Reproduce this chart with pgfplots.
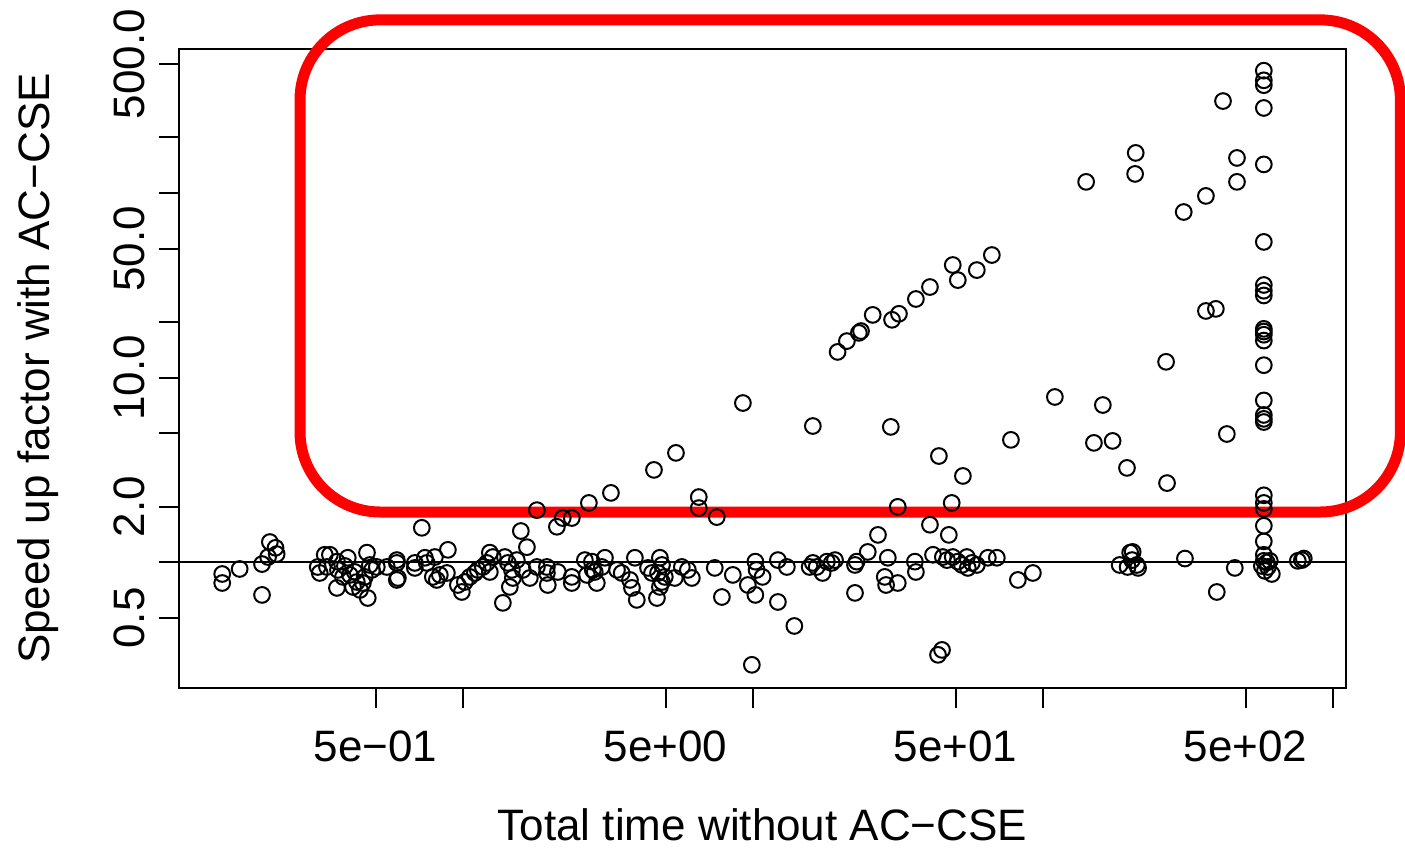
\documentclass[border=0pt]{standalone}
\usepackage{fontspec}
\setmainfont{Liberation Sans}
\usepackage{pgfplots}
\pgfplotsset{compat=1.18}

\begin{document}
\begin{tikzpicture}
\useasboundingbox (-62.65pt,-56pt) rectangle (429.1pt,240.8pt);
\begin{axis}[
    at={(0,0)}, anchor=south west,
    scale only axis, width=408.45pt, height=223.65pt,
    xmode=log, ymode=log,
    xmin=0.105, xmax=1110, ymin=0.209, ymax=603,
    axis line style={line width=0.7pt},
    tick style={line width=0.7pt, black},
    major tick length=7pt,
    tick align=outside, tick pos=left,
    xtick={0.5,1,5,10,50,100,500,1000},
    xticklabels={5e−01,{},5e+00,{},5e+01,{},5e+02,{}},
    ytick={0.5,1,2,5,10,20,50,100,200,500},
    yticklabels={0.5,{},2.0,{},10.0,{},50.0,{},{},500.0},
    minor xtick={}, minor ytick={},
    ticklabel style={font=\fontsize{15.4}{18}\selectfont},
    xticklabel shift=4.3pt,
    yticklabel style={rotate=90, anchor=south},
    yticklabel shift=1.5pt,
    label style={font=\fontsize{15.4}{18}\selectfont},
    xlabel={Total time without AC−CSE},
    ylabel={Speed up factor with AC−CSE},
    xlabel style={at={(axis description cs:0.5,-0.214)}, anchor=center},
    ylabel style={at={(axis description cs:-0.1204,0.5)}, anchor=center},
    clip=false,
]
% reference line at speed-up 1
\addplot[black, line width=0.7pt, forget plot] coordinates {(0.105,1) (1110,1)};

\addplot[only marks, mark=o, mark size=2.75pt, mark options={line width=0.7pt, black}] table {
x y
0.148 0.866
0.148 0.774
0.170 0.922
0.203 0.980
0.203 0.667
0.213 1.07
0.216 1.29
0.226 1.20
0.228 1.11
0.316 0.945
0.334 1.10
0.348 1.10
0.321 0.877
0.340 0.945
0.368 1.01
0.371 0.911
0.386 0.835
0.408 0.856
0.431 0.784
0.418 0.737
0.452 0.774
0.442 0.710
0.467 1.13
0.478 0.969
0.505 0.945
0.547 0.945
0.592 0.994
0.368 0.728
0.470 0.642
0.592 0.804
0.392 0.957
0.424 0.888
0.459 0.835
0.486 0.911
0.401 1.06
0.592 1.03
0.597 0.824
0.683 0.994
0.683 0.934
0.740 1.06
0.801 1.07
0.751 0.994
0.888 1.17
0.788 0.835
0.833 0.856
0.881 0.877
0.813 0.804
0.961 0.755
0.992 0.692
1.016 0.784
1.057 0.835
1.10 0.877
1.126 0.911
1.172 0.945
1.21 0.994
1.239 1.13
1.269 1.07
1.239 0.888
1.374 0.604
1.396 1.07
1.43 0.994
1.476 0.911
1.487 0.824
1.452 0.737
1.535 1.03
1.585 1.48
1.663 1.21
1.61 0.911
1.702 0.824
1.80 0.945
1.949 0.945
1.963 0.755
1.949 0.877
2.127 0.888
2.375 0.835
2.375 0.774
2.635 1.03
2.677 0.856
2.806 0.911
2.897 0.774
1.80 1.92
2.11 1.56
2.21 1.74
2.375 1.74
2.72 2.10
3.24 2.38
4.56 3.17
5.43 3.92
9.24 7.30
6.51 2.26
6.51 1.97
7.51 1.76
0.722 1.54
2.786 1.01
2.85 0.888
3.015 0.945
3.09 1.06
3.40 0.911
3.53 0.877
3.77 0.804
3.83 0.728
3.98 0.627
3.92 1.06
4.35 0.934
4.49 0.877
4.67 0.642
4.78 1.06
4.86 0.969
4.71 0.877
4.86 0.784
4.78 0.737
4.97 0.835
5.38 0.824
5.69 0.945
5.97 0.911
6.16 0.824
7.39 0.934
7.82 0.650
8.53 0.856
9.61 0.755
10.2 1.01
10.3 0.911
10.2 0.667
10.8 0.835
12.2 1.03
13.1 0.945
12.2 0.611
13.9 0.453
9.92 0.279
15.7 0.945
16.1 0.994
16.6 0.945
17.4 0.877
18.0 1.01
18.7 0.994
19.2 1.03
22.5 0.969
22.8 1.01
22.5 0.684
24.9 1.14
27.0 1.41
29.2 1.06
28.5 0.835
28.8 0.755
31.6 0.774
36.2 1.01
36.5 0.888
40.8 1.60
47.4 1.41
41.8 1.10
45.2 1.07
46.7 1.03
48.9 1.07
50.9 1.01
52.6 0.969
54.7 1.07
55.1 0.934
56.9 0.994
59.2 0.969
64.6 1.06
69.4 1.06
43.5 0.316
44.9 0.336
82.0 0.804
92.4 0.877
184 0.969
200 1.13
204 1.14
203 1.03
211 0.969
213 0.934
196 0.945
66.7 46.2
59.2 38.3
48.9 40.8
50.9 33.8
40.8 31.0
36.5 26.7
31.9 22.2
30.2 20.6
25.9 21.9
23.6 17.9
23.2 17.5
21.1 15.8
19.6 13.8
16.1 5.48
29.9 5.42
43.8 3.77
53.0 2.94
77.6 4.61
48.5 2.10
31.6 2.00
209 165
208 127
141 115
467 155
467 115
365 96.5
306 79.0
365 23.0
395 23.6
266 12.2
110 7.87
161 7.12
150 4.44
174 4.55
195 3.25
268 2.69
431 4.96
418 315
578 460
578 408
578 384
578 289
578 143
578 54.4
578 31.8
578 29.6
578 27.9
578 18.4
578 17.8
578 17.1
578 15.9
578 11.7
578 7.54
578 6.29
578 5.99
578 5.76
578 2.31
578 2.10
578 1.95
578 1.58
578 1.30
578 1.10
578 1.02
592 1.00
606 1.02
616 0.866
569 0.957
597 0.945
583 0.90
309 1.05
459 0.934
398 0.692
757 1.02
782 1.03
794 1.05
};

% red highlight frame
\draw[red, line width=3.85pt, rounded corners=28pt]
    (rel axis cs:0.1037,0.2754) rectangle (rel axis cs:1.0466,1.0455);
\end{axis}
\end{tikzpicture}
\end{document}
